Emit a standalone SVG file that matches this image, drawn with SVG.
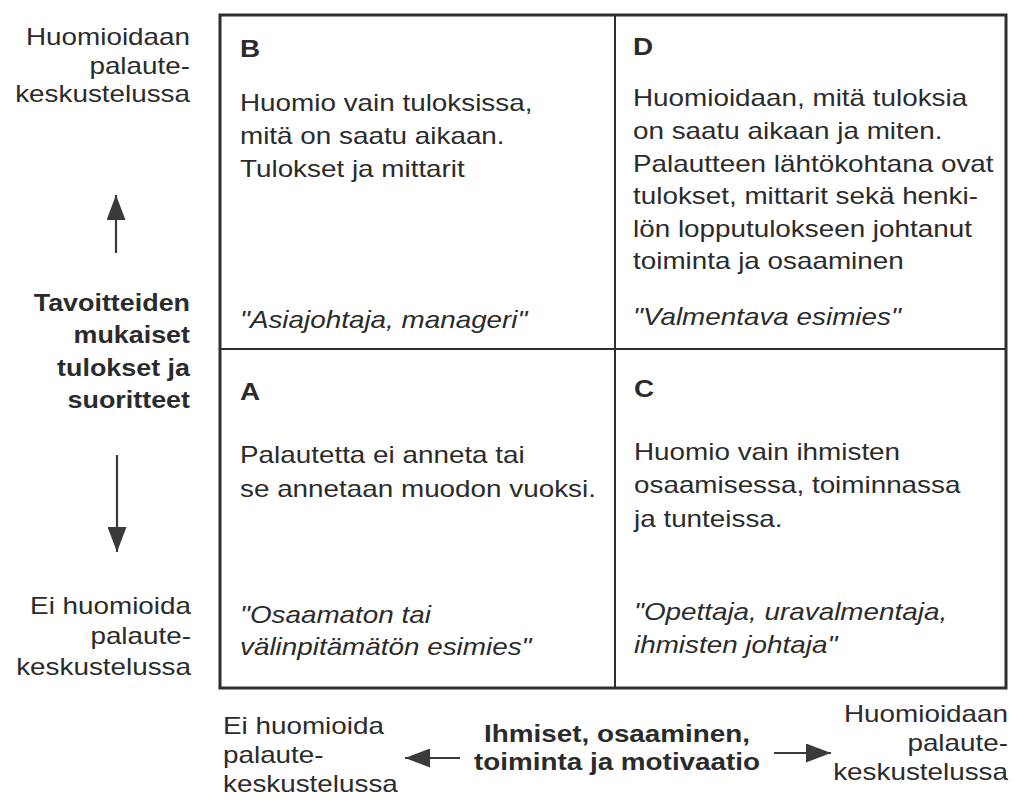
<svg xmlns="http://www.w3.org/2000/svg" width="1015" height="805" viewBox="0 0 1015 805">
<style>
  .t { font-family: "Liberation Sans", Arial, Helvetica, sans-serif; font-size: 24px; fill: #2b2b2b; }
  .b { font-weight: bold; }
  .i { font-style: italic; }
  .e { text-anchor: end; }
  .m { text-anchor: middle; }
  .frame { fill: none; stroke: #2e2e2e; stroke-width: 3; }
  .div { stroke: #2e2e2e; stroke-width: 2; }
  .arr { stroke: #3a3a3a; stroke-width: 2.2; fill: none; marker-end: url(#head); }
</style>
<defs>
  <marker id="head" viewBox="0 0 25 19" refX="25" refY="9.5" markerWidth="25" markerHeight="19" markerUnits="userSpaceOnUse" orient="auto">
    <path d="M0,0 L25,9.5 L0,19 Z" fill="#3a3a3a"/>
  </marker>
</defs>
<rect width="1015" height="805" fill="#ffffff"/>

<g id="grid">
  <rect class="frame" x="220" y="15" width="786" height="673"/>
  <line class="div" x1="615" y1="15" x2="615" y2="688"/>
  <line class="div" x1="220" y1="349" x2="1006" y2="349"/>
</g>

<g id="quadrant-B">
  <g transform="translate(240,0) scale(1.16,1)">
    <text class="t b" x="0" y="57">B</text>
    <text class="t" x="0" y="111">Huomio vain tuloksissa,</text>
    <text class="t" x="0" y="144">mitä on saatu aikaan.</text>
    <text class="t" x="0" y="177">Tulokset ja mittarit</text>
    <text class="t i" x="0" y="328">"Asiajohtaja, manageri"</text>
  </g>
</g>

<g id="quadrant-D">
  <g transform="translate(633,0) scale(1.16,1)">
    <text class="t b" x="0" y="55">D</text>
    <text class="t" x="0" y="106">Huomioidaan, mitä tuloksia</text>
    <text class="t" x="0" y="139">on saatu aikaan ja miten.</text>
    <text class="t" x="0" y="172">Palautteen lähtökohtana ovat</text>
    <text class="t" x="0" y="204">tulokset, mittarit sekä henki-</text>
    <text class="t" x="0" y="237">lön lopputulokseen johtanut</text>
    <text class="t" x="0" y="269">toiminta ja osaaminen</text>
    <text class="t i" x="0" y="325">"Valmentava esimies"</text>
  </g>
</g>

<g id="quadrant-A">
  <g transform="translate(240,0) scale(1.16,1)">
    <text class="t b" x="0" y="400">A</text>
    <text class="t" x="0" y="463">Palautetta ei anneta tai</text>
    <text class="t" x="0" y="497">se annetaan muodon vuoksi.</text>
    <text class="t i" x="0" y="623">"Osaamaton tai</text>
    <text class="t i" x="0" y="655">välinpitämätön esimies"</text>
  </g>
</g>

<g id="quadrant-C">
  <g transform="translate(634,0) scale(1.16,1)">
    <text class="t b" x="0" y="397">C</text>
    <text class="t" x="0" y="460">Huomio vain ihmisten</text>
    <text class="t" x="0" y="493">osaamisessa, toiminnassa</text>
    <text class="t" x="0" y="527">ja tunteissa.</text>
    <text class="t i" x="0" y="620">"Opettaja, uravalmentaja,</text>
    <text class="t i" x="0" y="653">ihmisten johtaja"</text>
  </g>
</g>

<g id="label-left-top">
  <g transform="translate(190,0) scale(1.16,1)">
    <text class="t e" x="0" y="45">Huomioidaan</text>
    <text class="t e" x="0" y="74">palaute-</text>
    <text class="t e" x="0" y="102">keskustelussa</text>
  </g>
</g>

<g id="label-left-axis">
  <g transform="translate(190,0) scale(1.12,1)">
    <text class="t b e" x="0" y="311">Tavoitteiden</text>
    <text class="t b e" x="0" y="343">mukaiset</text>
    <text class="t b e" x="0" y="376">tulokset ja</text>
    <text class="t b e" x="0" y="408">suoritteet</text>
  </g>
</g>

<g id="label-left-bottom">
  <g transform="translate(191,0) scale(1.16,1)">
    <text class="t e" x="0" y="614">Ei huomioida</text>
    <text class="t e" x="0" y="644">palaute-</text>
    <text class="t e" x="0" y="675">keskustelussa</text>
  </g>
</g>

<g id="label-bottom-left">
  <g transform="translate(223,0) scale(1.16,1)">
    <text class="t" x="0" y="734">Ei huomioida</text>
    <text class="t" x="0" y="763">palaute-</text>
    <text class="t" x="0" y="792">keskustelussa</text>
  </g>
</g>

<g id="label-bottom-axis">
  <g transform="translate(617,0) scale(1.16,1)">
    <text class="t b m" x="0" y="742">Ihmiset, osaaminen,</text>
    <text class="t b m" x="0" y="770">toiminta ja motivaatio</text>
  </g>
</g>

<g id="label-bottom-right">
  <g transform="translate(1008,0) scale(1.16,1)">
    <text class="t e" x="0" y="722">Huomioidaan</text>
    <text class="t e" x="0" y="751">palaute-</text>
    <text class="t e" x="0" y="780">keskustelussa</text>
  </g>
</g>

<g id="connectors">
  <line class="arr" x1="116" y1="253" x2="116" y2="195"/>
  <line class="arr" x1="117" y1="455" x2="117" y2="552"/>
  <line class="arr" x1="460" y1="758" x2="405" y2="758"/>
  <line class="arr" x1="774" y1="753" x2="831" y2="753"/>
</g>
</svg>
